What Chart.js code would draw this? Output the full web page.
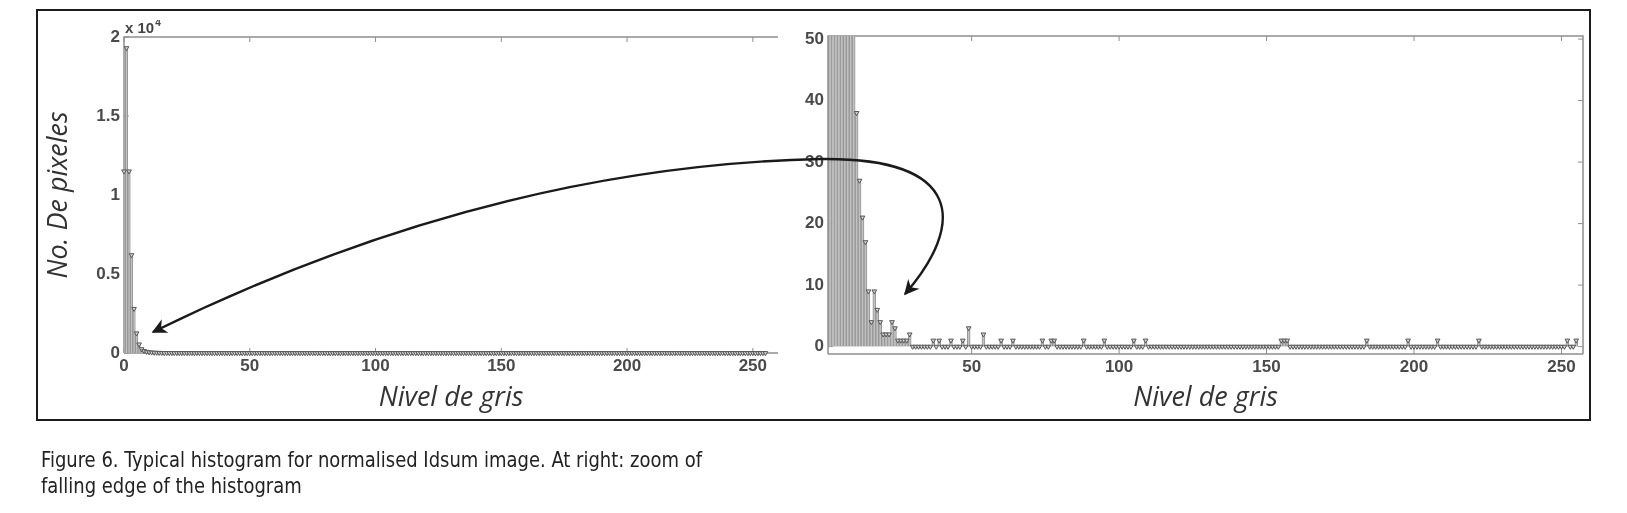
<!DOCTYPE html>
<html>
<head>
<meta charset="utf-8">
<script src="https://cdn.jsdelivr.net/npm/chart.js@4/dist/chart.umd.min.js"></script>
<style>
  body { margin: 0; background: #fff; }
  #page { position: relative; width: 1627px; height: 513px; background: #fff; overflow: hidden; }
  #frame { position: absolute; left: 36px; top: 9px; width: 1555px; height: 412px; box-sizing: border-box; border: 2px solid #1c1c1c; }
  canvas { position: absolute; }
  #left { left: 40px; top: 20px; }
  #right { left: 790px; top: 16px; }
  #arrow { position: absolute; left: 0; top: 0; pointer-events: none; }
  .cap { position: absolute; left: 41px; font-family: "Liberation Sans Narrow", "DejaVu Sans Condensed", sans-serif;
         font-size: 21px; line-height: 26px; color: #222; white-space: nowrap; transform-origin: 0 0; }
</style>
</head>
<body>
<div id="page">
  <div id="frame"></div>
  <canvas id="left" width="750" height="395"></canvas>
  <canvas id="right" width="798" height="399"></canvas>
  <svg id="arrow" width="1627" height="513">
    <defs>
      <marker id="head" viewBox="0 0 10 10" refX="9" refY="5" markerUnits="userSpaceOnUse"
              markerWidth="20" markerHeight="15" orient="auto-start-reverse">
        <path d="M0,0 L10,5 L0,10 L3,5 z" fill="#1a1a1a"/>
      </marker>
    </defs>
    <path d="M153,332 C330,245 560,165 820,159 C965,157 965,225 905,294"
          fill="none" stroke="#1a1a1a" stroke-width="2.4" marker-start="url(#head)" marker-end="url(#head)"/>
  </svg>
  <div class="cap" id="cap1" style="top:447px">Figure 6. Typical histogram for normalised Idsum image. At right: zoom of</div>
  <div class="cap" id="cap2" style="top:473px">falling edge of the histogram</div>
</div>
<script>
// histogram of the normalised Idsum image, one count per grey level
const grayLevels = [
  0, 1, 2, 3, 4, 5, 6, 7, 8, 9, 10, 11, 12, 13, 14, 15,
  16, 17, 18, 19, 20, 21, 22, 23, 24, 25, 26, 27, 28, 29, 30, 31,
  32, 33, 34, 35, 36, 37, 38, 39, 40, 41, 42, 43, 44, 45, 46, 47,
  48, 49, 50, 51, 52, 53, 54, 55, 56, 57, 58, 59, 60, 61, 62, 63,
  64, 65, 66, 67, 68, 69, 70, 71, 72, 73, 74, 75, 76, 77, 78, 79,
  80, 81, 82, 83, 84, 85, 86, 87, 88, 89, 90, 91, 92, 93, 94, 95,
  96, 97, 98, 99, 100, 101, 102, 103, 104, 105, 106, 107, 108, 109, 110, 111,
  112, 113, 114, 115, 116, 117, 118, 119, 120, 121, 122, 123, 124, 125, 126, 127,
  128, 129, 130, 131, 132, 133, 134, 135, 136, 137, 138, 139, 140, 141, 142, 143,
  144, 145, 146, 147, 148, 149, 150, 151, 152, 153, 154, 155, 156, 157, 158, 159,
  160, 161, 162, 163, 164, 165, 166, 167, 168, 169, 170, 171, 172, 173, 174, 175,
  176, 177, 178, 179, 180, 181, 182, 183, 184, 185, 186, 187, 188, 189, 190, 191,
  192, 193, 194, 195, 196, 197, 198, 199, 200, 201, 202, 203, 204, 205, 206, 207,
  208, 209, 210, 211, 212, 213, 214, 215, 216, 217, 218, 219, 220, 221, 222, 223,
  224, 225, 226, 227, 228, 229, 230, 231, 232, 233, 234, 235, 236, 237, 238, 239,
  240, 241, 242, 243, 244, 245, 246, 247, 248, 249, 250, 251, 252, 253, 254, 255
];
const pixelCounts = [
  11500, 19300, 11500, 6200, 2800, 1250, 550, 250, 130, 80, 55, 38, 27, 21, 17, 9,
  4, 9, 6, 4, 2, 2, 2, 4, 3, 1, 1, 1, 1, 2, 0, 0,
  0, 0, 0, 0, 0, 1, 0, 1, 0, 0, 0, 1, 0, 0, 0, 1,
  0, 3, 0, 0, 0, 0, 2, 0, 0, 0, 0, 0, 1, 0, 0, 0,
  1, 0, 0, 0, 0, 0, 0, 0, 0, 0, 1, 0, 0, 1, 1, 0,
  0, 0, 0, 0, 0, 0, 0, 0, 1, 0, 0, 0, 0, 0, 0, 1,
  0, 0, 0, 0, 0, 0, 0, 0, 0, 1, 0, 0, 0, 1, 0, 0,
  0, 0, 0, 0, 0, 0, 0, 0, 0, 0, 0, 0, 0, 0, 0, 0,
  0, 0, 0, 0, 0, 0, 0, 0, 0, 0, 0, 0, 0, 0, 0, 0,
  0, 0, 0, 0, 0, 0, 0, 0, 0, 0, 0, 1, 1, 1, 0, 0,
  0, 0, 0, 0, 0, 0, 0, 0, 0, 0, 0, 0, 0, 0, 0, 0,
  0, 0, 0, 0, 0, 0, 0, 0, 1, 0, 0, 0, 0, 0, 0, 0,
  0, 0, 0, 0, 0, 0, 1, 0, 0, 0, 0, 0, 0, 0, 0, 0,
  1, 0, 0, 0, 0, 0, 0, 0, 0, 0, 0, 0, 0, 0, 1, 0,
  0, 0, 0, 0, 0, 0, 0, 0, 0, 0, 0, 0, 0, 0, 0, 0,
  0, 0, 0, 0, 0, 0, 0, 0, 0, 0, 0, 0, 1, 0, 0, 1
];

// ticks
const leftXTicks = [0, 50, 100, 150, 200, 250];
const leftYTicks = [0, 5000, 10000, 15000, 20000];
const leftYLabels = ['0', '0.5', '1', '1.5', '2'];
const rightXTicks = [50, 100, 150, 200, 250];
const rightYTicks = [0, 10, 20, 30, 40, 50];

const xTitle = 'Nivel de gris';
const yTitle = 'No. De pixeles';

const points = grayLevels.map((g, i) => ({ x: g, y: pixelCounts[i] }));

const tickFont = { family: 'Liberation Sans, Arial, sans-serif', size: 17, weight: 'bold' };
const titleFont = { family: 'Open Sans, sans-serif', size: 27, style: 'italic' };

// box around the plot area with little inward ticks, matlab style
const boxPlugin = {
    id: 'box',
    beforeDatasetsDraw(chart, args, opts) {
        const { ctx, chartArea: a, scales: { x, y } } = chart;
        ctx.save();
        ctx.strokeStyle = '#8e8e8e';
        ctx.lineWidth = 1.5;
        ctx.beginPath();
        ctx.moveTo(a.left, a.bottom); ctx.lineTo(a.left, a.top); ctx.lineTo(a.right, a.top);
        if (opts.right) ctx.lineTo(a.right, a.bottom);
        ctx.moveTo(a.left, a.bottom); ctx.lineTo(a.right, a.bottom);
        ctx.stroke();
        ctx.lineWidth = 1;
        ctx.beginPath();
        x.ticks.forEach(t => {
            const px = x.getPixelForValue(t.value);
            ctx.moveTo(px, a.bottom); ctx.lineTo(px, a.bottom - 5);
            ctx.moveTo(px, a.top); ctx.lineTo(px, a.top + 5);
        });
        y.ticks.forEach(t => {
            const py = y.getPixelForValue(t.value);
            ctx.moveTo(a.left, py); ctx.lineTo(a.left + 5, py);
            if (opts.right) { ctx.moveTo(a.right, py); ctx.lineTo(a.right - 5, py); }
        });
        ctx.stroke();
        ctx.restore();
    },
    afterDraw(chart, args, opts) {
        if (!opts.exponent) return;
        const { ctx, chartArea: a } = chart;
        ctx.save();
        ctx.fillStyle = '#444';
        ctx.font = 'bold 15px Liberation Sans, Arial, sans-serif';
        ctx.textBaseline = 'alphabetic';
        ctx.fillText('x 10', a.left + 1, a.top - 4);
        const w = ctx.measureText('x 10').width;
        ctx.font = 'bold 10px Liberation Sans, Arial, sans-serif';
        ctx.fillText('4', a.left + 2 + w, a.top - 11);
        ctx.restore();
    }
};

function makeChart(id, cfg) {
    const ctx = document.getElementById(id).getContext('2d');
    return new Chart(ctx, {
        type: 'bar',
        data: {
            datasets: [{
                type: 'line',
                data: points,
                showLine: false,
                pointStyle: 'triangle',
                rotation: 180,
                pointRadius: 2.7,
                pointBorderWidth: 1,
                pointBorderColor: '#555',
                pointBackgroundColor: '#d4d4d4',
                clip: { left: 4, right: 4, top: 0, bottom: 4 },
                order: 0
            }, {
                data: points,
                backgroundColor: '#c2c2c2',
                borderColor: '#949494',
                borderWidth: 1,
                barPercentage: 1,
                categoryPercentage: 1,
                clip: 0,
                order: 1
            }]
        },
        options: {
            responsive: false,
            animation: false,
            devicePixelRatio: 1,
            layout: { padding: cfg.padding },
            plugins: { legend: { display: false }, tooltip: { enabled: false }, box: cfg.box },
            scales: {
                x: {
                    type: 'linear', offset: false, min: cfg.xMin, max: cfg.xMax,
                    grid: { display: false, drawTicks: false },
                    border: { display: false },
                    afterBuildTicks: s => { s.ticks = cfg.xTicks.map(v => ({ value: v })); },
                    afterFit: s => { s.height = cfg.xHeight; },
                    ticks: { font: tickFont, color: '#4a4a4a', padding: 3, maxRotation: 0, autoSkip: false },
                    title: { display: true, text: xTitle, font: titleFont, color: '#333', padding: { top: 6, bottom: 0 } }
                },
                y: {
                    min: cfg.yMin, max: cfg.yMax,
                    grid: { display: false, drawTicks: false },
                    border: { display: false },
                    afterBuildTicks: s => { s.ticks = cfg.yTicks.map(v => ({ value: v })); },
                    afterFit: s => { s.width = cfg.yWidth; },
                    ticks: { font: tickFont, color: '#4a4a4a', padding: 4, callback: cfg.yLabel },
                    title: cfg.yTitle
                }
            }
        },
        plugins: [boxPlugin]
    });
}

makeChart('left', {
    padding: { left: 0, top: 17, right: 12, bottom: 0 },
    xMin: 0, xMax: 260, yMin: 0, yMax: 20000,
    xTicks: leftXTicks, yTicks: leftYTicks,
    xHeight: 62, yWidth: 84,
    yLabel: (v, i) => leftYLabels[i],
    yTitle: { display: true, text: yTitle, font: titleFont, color: '#333', padding: { top: 3, bottom: 0 } },
    box: { right: false, exponent: true }
});

makeChart('right', {
    padding: { left: 0, top: 20, right: 4, bottom: 0 },
    xMin: 1.3, xMax: 257.3, yMin: -1.2, yMax: 50.5,
    xTicks: rightXTicks, yTicks: rightYTicks,
    xHeight: 61, yWidth: 38,
    yLabel: v => v,
    yTitle: { display: false },
    box: { right: true, exponent: false }
});

// squeeze the caption to the width of the printed one
const cap1 = document.getElementById('cap1');
const cap2 = document.getElementById('cap2');
const k = 661 / cap1.getBoundingClientRect().width;
cap1.style.transform = 'scaleX(' + k + ')';
cap2.style.transform = 'scaleX(' + k + ')';
</script>
</body>
</html>
